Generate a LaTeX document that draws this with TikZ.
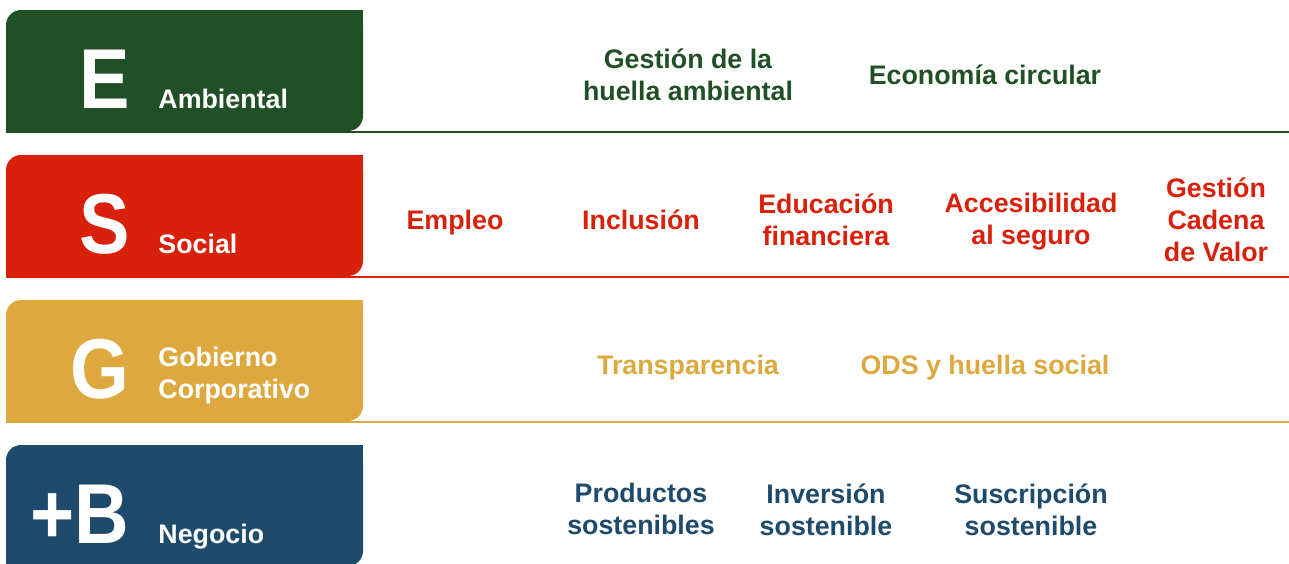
\documentclass[tikz,border=0pt]{standalone}
\usepackage{graphicx}
\usepackage{fontspec}
\setmainfont{Liberation Sans}
\definecolor{ambiental}{HTML}{225026}
\definecolor{social}{HTML}{D9200A}
\definecolor{gobierno}{HTML}{DDA83E}
\definecolor{negocio}{HTML}{1E4A6C}
\newcommand{\esgletter}[1]{\scalebox{0.89}[1]{#1}}
\tikzset{
  bigletter/.style={font=\bfseries\fontsize{42.5}{42.5}\selectfont, text=white, inner sep=0pt, anchor=base east},
  boxlabel/.style={font=\bfseries\fontsize{13.4}{16}\selectfont, text=white, inner sep=0pt, align=left},
  topic/.style={font=\bfseries\fontsize{13.4}{16}\selectfont, inner sep=0pt, align=center,
    execute at begin node=\strut, execute at end node=\strut},
}
\begin{document}
\begin{tikzpicture}[x=0.5pt,y=-0.5pt]
\useasboundingbox (0,0) rectangle (1289,563);
\foreach \t/\c in {10/ambiental,155/social,300/gobierno,445/negocio}{
	\fill[\c,rounded corners=7.5pt] (6,\t) rectangle (363,\t+121);
	\fill[\c] (333,\t) rectangle (363,\t+30);
	\fill[\c] (6,\t+91) rectangle (36,\t+121);
	\draw[\c,line width=1.35pt] (6,\t+122) -- (1289,\t+122);
}
\node[bigletter] (letterE) at (130,108) {\esgletter{E}};
\node[boxlabel,anchor=base west] (labelE) at (158,108) {Ambiental};
\node[bigletter] (letterS) at (130,253) {\esgletter{S}};
\node[boxlabel,anchor=base west] (labelS) at (158,253) {Social};
\node[bigletter] (letterG) at (130,398) {\esgletter{G}};
\node[boxlabel,anchor=west] (labelG) at (158,376) {Gobierno\\Corporativo};
\node[bigletter] (letterB) at (130,543) {\esgletter{+B}};
\node[boxlabel,anchor=base west] (labelB) at (158,543) {Negocio};

\node[topic,text=ambiental] (huella) at (688,79) {Gestión de la\\huella ambiental};
\node[topic,text=ambiental] (circular) at (985,78) {Economía circular};

\node[topic,text=social] (empleo) at (455,223) {Empleo};
\node[topic,text=social] (inclusion) at (641,223) {Inclusión};
\node[topic,text=social] (educacion) at (826,224) {Educación\\financiera};
\node[topic,text=social] (accesibilidad) at (1031,224) {Accesibilidad\\al seguro};
\node[topic,text=social] (cadena) at (1216,224) {Gestión\\Cadena\\de Valor};

\node[topic,text=gobierno] (transparencia) at (688,368) {Transparencia};
\node[topic,text=gobierno] (ods) at (985,368) {ODS y huella social};

\node[topic,text=negocio] (productos) at (641,514) {Productos\\sostenibles};
\node[topic,text=negocio] (inversion) at (826,514) {Inversión\\sostenible};
\node[topic,text=negocio] (suscripcion) at (1031,514) {Suscripción\\sostenible};
\end{tikzpicture}
\end{document}
